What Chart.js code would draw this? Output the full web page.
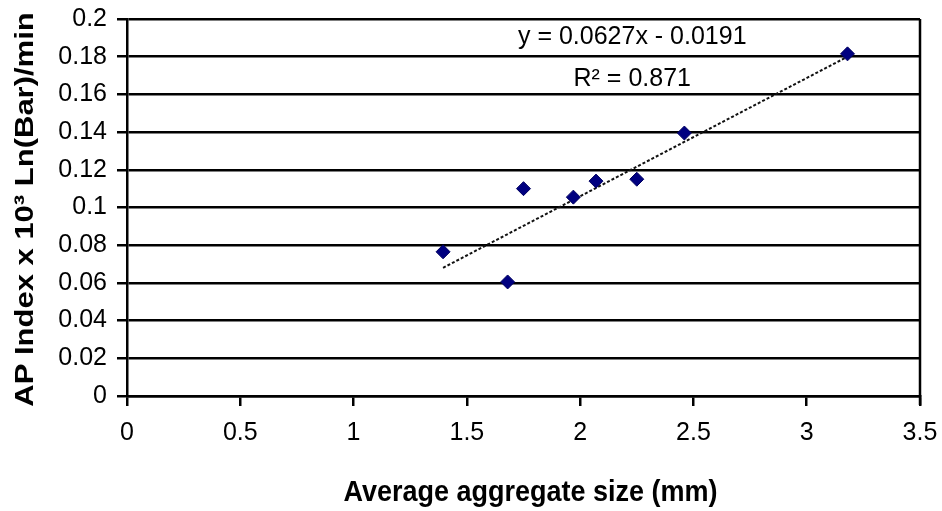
<!DOCTYPE html>
<html>
<head>
<meta charset="utf-8">
<script src="https://cdn.jsdelivr.net/npm/chart.js@4"></script>
<style>
  html, body { margin: 0; padding: 0; background: #fff; }
  #wrap { width: 942px; height: 511px; }
</style>
</head>
<body>
<div id="wrap"><canvas id="myChart" width="942" height="511"></canvas></div>
<script>
// measured points
const sizeMm = [1.395, 1.68, 1.75, 1.97, 2.07, 2.25, 2.46, 3.18];
const apIndex = [0.0765, 0.0605, 0.110, 0.1055, 0.114, 0.115, 0.1395, 0.1815];

// trendline ends as drawn
const trendX = [1.395, 3.18];
const trendY = [0.068, 0.180];

const xTitle = 'Average aggregate size (mm)';
const yTitle = 'AP Index x 10³ Ln(Bar)/min';
const equationText = 'y = 0.0627x - 0.0191';
const r2Text = 'R² = 0.871';

const FONT = "'Liberation Sans', Arial, sans-serif";

const points = sizeMm.map((x, i) => ({ x: x, y: apIndex[i] }));
const trend = trendX.map((x, i) => ({ x: x, y: trendY[i] }));

// squeezed text helper, the original fonts look condensed
function stretchText(c, text, x, y, size, sx, sy, rot) {
  c.save();
  c.translate(x, y);
  if (rot) c.rotate(rot);
  c.scale(sx, sy);
  c.font = 'bold ' + size + 'px ' + FONT;
  c.textAlign = 'center';
  c.textBaseline = 'middle';
  c.fillText(text, 0, 0);
  c.restore();
}

// right border, titles and equation
const extras = {
  id: 'extras',
  afterDraw(chart) {
    const c = chart.ctx;
    const a = chart.chartArea;
    c.save();
    c.strokeStyle = '#000';
    c.lineWidth = 2.5;
    c.beginPath();
    c.moveTo(a.right, a.top);
    c.lineTo(a.right, a.bottom + 9);
    c.stroke();

    const xs = chart.scales.x, ys = chart.scales.y;
    c.fillStyle = '#000';
    c.font = '25px ' + FONT;
    c.textAlign = 'center';
    c.textBaseline = 'middle';
    c.fillText(equationText, xs.getPixelForValue(2.23), ys.getPixelForValue(0.1905));
    c.fillText(r2Text, xs.getPixelForValue(2.23), ys.getPixelForValue(0.168));

    stretchText(c, xTitle, (a.left + a.right) / 2 + 7, 493, 30, 0.9, 1, 0);
    stretchText(c, yTitle, 26, (a.top + a.bottom) / 2 + 2, 25, 1.24, 1, -Math.PI / 2);
    c.restore();
  }
};

const ctx = document.getElementById('myChart').getContext('2d');
const myChart = new Chart(ctx, {
  type: 'scatter',
  data: {
    datasets: [
      {
        label: 'AP Index',
        data: points,
        pointStyle: 'rectRot',
        pointRadius: 7,
        backgroundColor: '#000080',
        borderColor: '#000060',
        borderWidth: 1,
        order: 1
      },
      {
        label: 'Linear',
        type: 'line',
        data: trend,
        borderColor: '#111',
        borderWidth: 2,
        borderDash: [3, 2],
        pointRadius: 0,
        fill: false,
        order: 2
      }
    ]
  },
  plugins: [extras],
  options: {
    responsive: false,
    animation: false,
    events: [],
    layout: { padding: { left: 40, right: 22, top: 19, bottom: 0 } },
    plugins: {
      legend: { display: false },
      tooltip: { enabled: false }
    },
    scales: {
      x: {
        type: 'linear',
        min: 0,
        max: 3.5,
        afterFit: (s) => { s.paddingLeft = 0; s.paddingRight = 0; s.height = 115; },
        ticks: {
          stepSize: 0.5,
          color: '#000',
          padding: 12,
          maxRotation: 0,
          font: { family: FONT, size: 25 },
          callback: (v) => String(+v.toFixed(1))
        },
        grid: {
          drawOnChartArea: false,
          color: '#000',
          lineWidth: 2.5,
          tickLength: 10
        },
        border: { color: '#000', width: 2.5 }
      },
      y: {
        min: 0,
        max: 0.2,
        afterFit: (s) => { s.paddingTop = 0; s.paddingBottom = 0; s.width = 87; },
        ticks: {
          stepSize: 0.02,
          color: '#000',
          padding: 10,
          font: { family: FONT, size: 25 },
          callback: (v) => String(+v.toFixed(2))
        },
        grid: {
          color: '#000',
          lineWidth: 2.5,
          tickLength: 10
        },
        border: { color: '#000', width: 2.5 }
      }
    }
  }
});
</script>
</body>
</html>
